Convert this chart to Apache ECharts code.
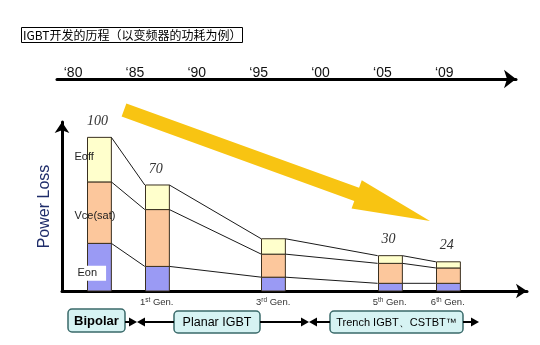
<!DOCTYPE html>
<html><head><meta charset="utf-8">
<script src="https://cdn.jsdelivr.net/npm/echarts@6/dist/echarts.min.js"></script>
<style>html,body{margin:0;padding:0;background:#fff}#c{width:540px;height:345px}</style>
</head><body><div id="c"></div>
<script>
// ---- data ----
const titleText = 'IGBT开发的历程（以变频器的功耗为例）';
const timelineLabels = ['‘80', '‘85', '‘90', '‘95', '‘00', '‘05', '‘09'];
const timelineSlots = [0, 1, 2, 3, 4, 5, 6];
const generations = [0, 1, 3, 5, 6];
const eonLoss = [31, 16, 9, 5, 5];
const vceSatLoss = [40, 37, 15, 13, 10];
const eoffLoss = [29, 16, 10, 5, 4];
const totalLabels = ['100', '70', '', '30', '24'];
const segmentNames = ['Eon', 'Vce(sat)', 'Eoff'];
const genTickValues = [1, 3, 5, 6];
const genTickNums = ['1', '3', '5', '6'];
const genTickSups = ['st', 'rd', 'th', 'th'];
const eraLabels = ['Bipolar', 'Planar IGBT', 'Trench IGBT、CSTBT™'];
const yAxisName = 'Power Loss';

const chart = echarts.init(document.getElementById('c'));
const FONT = 'Liberation Sans, Arial, sans-serif';
const barData = generations.map((g, i) => [g, eonLoss[i], vceSatLoss[i], eoffLoss[i]]);
const BAR_W = 0.41;
const EDGE = '#3a3020';
const FILLS = ['#9a9af4', '#fcc79c', '#ffffcc'];

function renderBar(params, api) {
  const i = params.dataIndex;
  const g = api.value(0);
  const a = api.value(1), b = api.value(2), c = api.value(3);
  const levels = [0, a, a + b, a + b + c];
  const pts = levels.map(v => api.coord([g, v]));
  const w = api.size([BAR_W, 0])[0];
  const x = Math.round(pts[0][0] - w / 2) + 0.5;
  const children = [];
  for (let k = 0; k < 3; k++) {
    children.push({
      type: 'rect',
      shape: { x: x, y: pts[k + 1][1], width: w, height: pts[k][1] - pts[k + 1][1] },
      style: { fill: FILLS[k], stroke: EDGE, lineWidth: 1 }
    });
  }
  if (i < generations.length - 1) {
    const ng = generations[i + 1];
    const nl = [0, eonLoss[i + 1], eonLoss[i + 1] + vceSatLoss[i + 1], eonLoss[i + 1] + vceSatLoss[i + 1] + eoffLoss[i + 1]];
    for (let k = 1; k < 4; k++) {
      const q = api.coord([ng, nl[k]]);
      children.push({
        type: 'line',
        shape: { x1: x + w, y1: pts[k][1], x2: q[0] - w / 2, y2: q[1] },
        style: { stroke: '#1a1a1a', lineWidth: 1 }
      });
    }
  }
  if (totalLabels[i]) {
    children.push({
      type: 'text',
      x: pts[0][0] - 1, y: pts[3][1] - 9,
      style: {
        text: totalLabels[i], fill: '#333', font: 'italic 14px "Liberation Serif", serif',
        textAlign: 'center', textVerticalAlign: 'bottom'
      }
    });
  }
  if (i === 0) {
    for (let k = 0; k < 3; k++) {
      const my = (pts[k][1] + pts[k + 1][1]) / 2;
      const isEon = k === 0;
      children.push({
        type: 'text',
        x: x - 13, y: my + (k === 0 ? 6 : (k === 1 ? 3 : -3)),
        style: {
          text: segmentNames[k], fill: '#222', font: '11px ' + FONT,
          textAlign: 'left', textVerticalAlign: 'middle',
          backgroundColor: isEon ? '#fff' : null,
          padding: isEon ? [2, 9, 2, 3] : 0
        }
      });
    }
  }
  return { type: 'group', children: children };
}

function arrowPoints(S, T, hw, hh, L) {
  const dx = T[0] - S[0], dy = T[1] - S[1];
  const len = Math.hypot(dx, dy);
  const u = [dx / len, dy / len], n = [-u[1], u[0]];
  const B = [T[0] - L * u[0], T[1] - L * u[1]];
  const P = (p, s) => [p[0] + s * n[0], p[1] + s * n[1]];
  return [P(S, hw), P(B, hw), P(B, hh), T, P(B, -hh), P(B, -hw), P(S, -hw)];
}
function tri(tipX, y, dir, len, half) {
  return { type: 'polygon', shape: { points: [[tipX, y], [tipX - dir * len, y - half], [tipX - dir * len, y + half]] }, style: { fill: '#000' } };
}
function hline(x1, x2, y) {
  return { type: 'line', shape: { x1: x1, y1: y, x2: x2, y2: y }, style: { stroke: '#000', lineWidth: 2 } };
}
function box(x, y, w, h, text, font) {
  return {
    type: 'group', children: [
      { type: 'rect', shape: { x: x, y: y, width: w, height: h, r: 4 }, style: { fill: '#d6f3f3', stroke: '#3a6a6a', lineWidth: 1.5 } },
      { type: 'text', x: x + w / 2, y: y + h / 2 + 1, style: { text: text, font: font, fill: '#000', textAlign: 'center', textVerticalAlign: 'middle' } }
    ]
  };
}
const AY = 322;
const graphics = [
  { type: 'polygon', z: 1, shape: { points: arrowPoints([124, 110], [430, 221], 7, 15, 78) }, style: { fill: '#f8c412' } },
  box(68, 309, 57, 23, eraLabels[0], 'bold 13px ' + FONT),
  box(174, 311, 86, 22, eraLabels[1], '12.5px ' + FONT),
  box(330, 311, 133, 22, eraLabels[2], '11px ' + FONT),
  hline(125, 130, AY), tri(137, AY, 1, 8, 4.5), tri(137, AY, -1, 8, 4.5), hline(144, 174, AY),
  hline(260, 302, AY), tri(309, AY, 1, 8, 4.5), tri(309, AY, -1, 8, 4.5), hline(316, 330, AY),
  hline(463, 471, AY), tri(479, AY, 1, 8, 4.5)
];

chart.setOption({
  animation: false,
  backgroundColor: '#fff',
  title: {
    text: titleText, left: 21, top: 27,
    padding: [1, 1, 1, 2], borderWidth: 1, borderColor: '#000',
    textStyle: { fontSize: 12, fontWeight: 'normal', color: '#000', fontFamily: 'Noto Sans CJK SC', lineHeight: 14 }
  },
  grid: [
    { left: 57, right: 24, top: 79, height: 10 },
    { left: 62, right: 13, top: 122, bottom: 54 }
  ],
  xAxis: [
    {
      gridIndex: 0, type: 'value', position: 'top', min: -0.26, max: 7.16,
      splitLine: { show: false }, axisTick: { show: false },
      axisLine: { show: true, onZero: false, symbol: ['none', 'arrow'], symbolSize: [14, 12], lineStyle: { color: '#000', width: 3 } },
      axisLabel: {
        customValues: timelineSlots, margin: -1, fontSize: 14, color: '#111', fontFamily: FONT,
        formatter: v => timelineLabels[timelineSlots.indexOf(v)] || ''
      }
    },
    {
      gridIndex: 1, type: 'value', min: -0.627, max: 7.36,
      splitLine: { show: false }, axisTick: { show: false },
      axisLine: { show: true, onZero: false, symbol: ['none', 'arrow'], symbolSize: [11, 11], lineStyle: { color: '#000', width: 3 } },
      axisLabel: {
        customValues: genTickValues, margin: 6, color: '#333', fontFamily: FONT,
        formatter: v => { const k = genTickValues.indexOf(v); return k < 0 ? '' : '{n|' + genTickNums[k] + '}{s|' + genTickSups[k] + '}{n| Gen.}'; },
        rich: { n: { fontSize: 9.5, color: '#333', fontFamily: FONT }, s: { fontSize: 6.5, color: '#333', fontFamily: FONT, padding: [0, 0, 4, 0] } }
      }
    }
  ],
  yAxis: [
    { gridIndex: 0, type: 'value', show: false },
    {
      gridIndex: 1, type: 'value', min: 0, max: 110,
      splitLine: { show: false }, axisTick: { show: false }, axisLabel: { show: false },
      axisLine: { show: true, onZero: false, symbol: ['none', 'arrow'], symbolSize: [11, 11], lineStyle: { color: '#000', width: 3 } },
      name: yAxisName, nameLocation: 'middle', nameGap: 9, nameRotate: 90,
      nameTextStyle: { fontSize: 16, color: '#1f2d6a', fontFamily: FONT }
    }
  ],
  series: [
    { type: 'custom', xAxisIndex: 1, yAxisIndex: 1, data: barData, encode: { x: 0, y: 1 }, renderItem: renderBar, z: 3, clip: false }
  ],
  graphic: graphics
});
</script>
</body></html>
